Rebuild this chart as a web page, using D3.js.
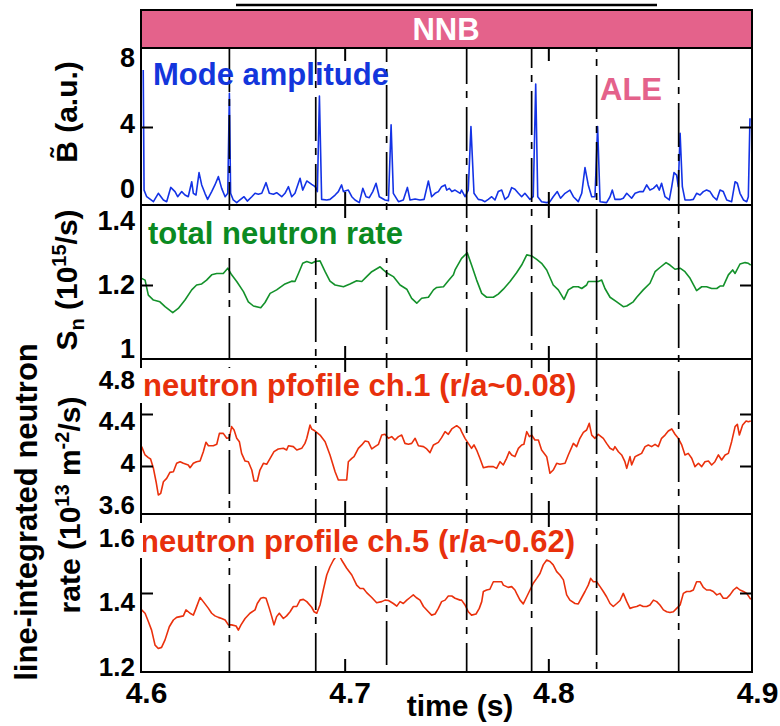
<!DOCTYPE html>
<html><head><meta charset="utf-8">
<script src="https://cdn.jsdelivr.net/npm/d3@7"></script>
<style>
body{margin:0;background:#fff}
svg{display:block}
text{font-family:"Liberation Sans",Arial,Helvetica,sans-serif;font-weight:bold}
</style>
</head><body>
<svg id="c" width="780" height="726"></svg>
<script>
// ---------------- DATA ----------------
const timeTicks = [4.6, 4.7, 4.8, 4.9];
const aleTimes = [4.6434, 4.6858, 4.7206, 4.7599, 4.7918, 4.8237, 4.8640];

const modeTicks = [0, 4, 8];
const rateTicks = [1, 1.2, 1.4];
const ch1Ticks = [3.6, 4, 4.4, 4.8];
const ch5Ticks = [1.2, 1.4, 1.6];

// Mode amplitude (a.u.)
const modeAmplitude = [
[4.6011,7.0],[4.6015,0.68],[4.6028,0.33],[4.6061,0.07],[4.6085,0.51],[4.6110,0.16],[4.6126,0.07],[4.6146,0.82],[4.6167,0.6],[4.6180,0.33],
[4.6200,0.6],[4.6216,0.42],[4.6232,0.33],[4.6249,1.12],[4.6257,0.51],[4.6270,0.42],[4.6285,1.6],[4.6298,0.95],[4.6314,0.51],[4.6327,0.19],
[4.6347,0.6],[4.6363,0.95],[4.6380,1.39],[4.6396,0.77],[4.6413,0.33],[4.6426,0.51],[4.6434,5.77],[4.6440,0.51],[4.6453,0.16],[4.6470,0.02],
[4.6486,0.16],[4.6506,0.33],[4.6522,0.1],[4.6544,0.33],[4.6560,0.51],[4.6576,0.46],[4.6593,0.51],[4.6614,1.07],[4.6630,0.51],[4.6650,0.46],
[4.6666,0.54],[4.6691,0.33],[4.6707,0.51],[4.6724,0.86],[4.6740,0.33],[4.6756,0.51],[4.6781,1.3],[4.6794,0.68],[4.6814,1.16],[4.6838,0.98],
[4.6855,0.86],[4.6866,0.6],[4.6876,5.63],[4.6887,0.19],[4.6912,0.16],[4.6928,0.19],[4.6953,0.42],[4.6969,0.6],[4.6985,0.95],[4.6994,0.6],
[4.7018,0.68],[4.7035,0.33],[4.7051,0.16],[4.7072,0.02],[4.7089,0.77],[4.7105,0.33],[4.7121,0.28],[4.7138,0.6],[4.7154,1.04],[4.7170,0.33],
[4.7198,0.16],[4.7215,0.12],[4.7228,4.11],[4.7239,0.51],[4.7264,0.07],[4.7288,0.16],[4.7308,0.82],[4.7321,0.16],[4.7346,0.21],[4.7370,0.16],
[4.7390,0.19],[4.7411,1.16],[4.7427,0.33],[4.7444,0.51],[4.7460,0.6],[4.7476,0.86],[4.7493,0.95],[4.7501,0.68],[4.7514,0.77],[4.7526,0.6],
[4.7542,0.68],[4.7567,0.51],[4.7574,0.68],[4.7591,0.33],[4.7607,0.68],[4.7620,4.02],[4.7635,0.51],[4.7656,0.19],[4.7673,0.16],[4.7689,0.07],
[4.7705,0.19],[4.7722,0.33],[4.7738,0.16],[4.7754,0.6],[4.7771,0.68],[4.7787,0.19],[4.7803,0.33],[4.7820,0.81],[4.7836,0.72],[4.7853,0.51],
[4.7869,0.33],[4.7885,0.51],[4.7910,0.19],[4.7926,0.33],[4.7938,6.26],[4.7948,0.33],[4.7967,0.07],[4.7992,0.02],[4.8008,0.07],[4.8024,0.33],
[4.8044,0.6],[4.8060,0.25],[4.8082,0.51],[4.8106,0.68],[4.8123,0.33],[4.8147,0.07],[4.8164,0.51],[4.8180,1.86],[4.8196,0.95],[4.8213,0.33],
[4.8229,0.33],[4.8242,4.02],[4.8254,0.07],[4.8286,0.02],[4.8303,0.33],[4.8314,0.68],[4.8327,0.19],[4.8352,0.19],[4.8368,0.25],[4.8385,0.51],
[4.8409,0.25],[4.8426,0.51],[4.8450,0.6],[4.8466,0.6],[4.8483,0.95],[4.8499,0.68],[4.8516,0.77],[4.8532,0.95],[4.8545,0.68],[4.8556,1.04],
[4.8573,0.33],[4.8594,0.16],[4.8606,0.86],[4.8617,1.6],[4.8630,1.47],[4.8638,0.86],[4.8647,3.67],[4.8658,0.86],[4.8671,0.16],[4.8696,0.16],
[4.8712,0.19],[4.8728,0.51],[4.8745,0.42],[4.8761,0.6],[4.8777,0.68],[4.8794,0.6],[4.8810,0.33],[4.8827,0.16],[4.8843,0.68],[4.8859,0.6],
[4.8876,0.16],[4.8900,0.07],[4.8917,1.12],[4.8928,1.04],[4.8941,0.51],[4.8958,0.16],[4.8974,0.07],[4.8982,0.33],[4.8990,4.46]
];

// Total neutron rate (10^15 /s)
const totalRate = [
[4.6003,1.219],[4.6020,1.214],[4.6036,1.171],[4.6061,1.157],[4.6093,1.152],[4.6118,1.138],[4.6156,1.121],[4.6183,1.133],[4.6216,1.157],[4.6249,1.186],
[4.6273,1.2],[4.6298,1.203],[4.6322,1.214],[4.6347,1.229],[4.6372,1.233],[4.6404,1.233],[4.6426,1.248],[4.6445,1.229],[4.6470,1.21],[4.6503,1.181],
[4.6527,1.152],[4.6552,1.14],[4.6588,1.135],[4.6609,1.15],[4.6634,1.176],[4.6666,1.186],[4.6707,1.203],[4.6740,1.211],[4.6756,1.21],[4.6773,1.233],
[4.6794,1.262],[4.6814,1.267],[4.6838,1.262],[4.6855,1.267],[4.6879,1.269],[4.6904,1.238],[4.6928,1.211],[4.6953,1.2],[4.6977,1.197],[4.6994,1.195],
[4.7026,1.203],[4.7059,1.212],[4.7084,1.21],[4.7108,1.224],[4.7133,1.238],[4.7174,1.252],[4.7190,1.243],[4.7206,1.235],[4.7239,1.224],[4.7272,1.2],
[4.7305,1.188],[4.7329,1.162],[4.7354,1.148],[4.7378,1.162],[4.7411,1.165],[4.7436,1.186],[4.7452,1.193],[4.7485,1.195],[4.7509,1.212],[4.7534,1.229],
[4.7542,1.243],[4.7574,1.276],[4.7602,1.292],[4.7623,1.257],[4.7648,1.214],[4.7673,1.176],[4.7697,1.165],[4.7730,1.165],[4.7754,1.174],[4.7779,1.188],
[4.7812,1.21],[4.7844,1.235],[4.7869,1.257],[4.7894,1.286],[4.7918,1.283],[4.7943,1.273],[4.7967,1.262],[4.7992,1.243],[4.8024,1.2],[4.8049,1.186],
[4.8077,1.159],[4.8098,1.186],[4.8123,1.195],[4.8147,1.195],[4.8164,1.19],[4.8188,1.2],[4.8196,1.21],[4.8221,1.21],[4.8245,1.21],[4.8262,1.214],
[4.8278,1.19],[4.8303,1.165],[4.8336,1.152],[4.8368,1.138],[4.8385,1.14],[4.8417,1.152],[4.8434,1.165],[4.8466,1.186],[4.8499,1.205],[4.8524,1.238],
[4.8548,1.25],[4.8578,1.264],[4.8597,1.257],[4.8622,1.245],[4.8647,1.248],[4.8671,1.238],[4.8696,1.219],[4.8728,1.184],[4.8753,1.195],[4.8777,1.195],
[4.8802,1.19],[4.8827,1.19],[4.8843,1.197],[4.8859,1.197],[4.8884,1.229],[4.8905,1.243],[4.8917,1.233],[4.8941,1.26],[4.8966,1.264],[4.8982,1.262],
[4.8994,1.257]
];

// Line-integrated neutron profile ch.1 (10^13 m^-2/s)
const profileCh1 = [
[4.6003,4.149],[4.6020,4.085],[4.6036,4.064],[4.6047,4.054],[4.6061,3.982],[4.6074,3.879],[4.6085,3.777],[4.6097,3.79],[4.6110,3.879],[4.6126,3.905],
[4.6142,3.951],[4.6159,3.956],[4.6175,4.021],[4.6192,4.033],[4.6208,4.021],[4.6232,4.008],[4.6241,3.987],[4.6257,4.021],[4.6273,4.033],[4.6290,4.038],
[4.6306,4.11],[4.6319,4.182],[4.6331,4.156],[4.6355,4.156],[4.6372,4.167],[4.6385,4.251],[4.6404,4.251],[4.6421,4.213],[4.6434,4.218],[4.6445,4.303],
[4.6457,4.277],[4.6470,4.213],[4.6483,4.187],[4.6494,4.097],[4.6511,4.038],[4.6527,4.033],[4.6544,3.969],[4.6555,3.885],[4.6571,3.885],[4.6584,3.969],
[4.6601,4.021],[4.6617,4.013],[4.6634,4.059],[4.6653,4.11],[4.6674,4.131],[4.6699,4.136],[4.6715,4.123],[4.6724,4.156],[4.6748,4.149],[4.6765,4.123],
[4.6789,4.136],[4.6805,4.174],[4.6814,4.213],[4.6830,4.315],[4.6838,4.285],[4.6855,4.269],[4.6879,4.238],[4.6904,4.187],[4.6928,4.085],[4.6953,3.956],
[4.6969,3.892],[4.7010,3.892],[4.7018,4.033],[4.7035,4.059],[4.7046,4.072],[4.7067,4.136],[4.7084,4.162],[4.7100,4.192],[4.7116,4.187],[4.7133,4.131],
[4.7149,4.149],[4.7166,4.167],[4.7182,4.238],[4.7198,4.244],[4.7215,4.213],[4.7231,4.226],[4.7247,4.2],[4.7264,4.226],[4.7280,4.238],[4.7296,4.174],
[4.7313,4.167],[4.7329,4.174],[4.7346,4.213],[4.7362,4.156],[4.7387,4.149],[4.7403,4.131],[4.7419,4.103],[4.7436,4.162],[4.7460,4.182],[4.7476,4.218],
[4.7493,4.264],[4.7509,4.244],[4.7526,4.285],[4.7550,4.31],[4.7567,4.29],[4.7574,4.264],[4.7591,4.213],[4.7607,4.174],[4.7623,4.136],[4.7635,4.162],
[4.7648,4.123],[4.7664,4.059],[4.7681,3.987],[4.7705,3.995],[4.7730,3.995],[4.7746,3.982],[4.7763,4.033],[4.7779,4.008],[4.7795,4.059],[4.7808,4.11],
[4.7820,4.085],[4.7836,4.072],[4.7853,4.136],[4.7869,4.162],[4.7880,4.167],[4.7894,4.264],[4.7907,4.226],[4.7918,4.238],[4.7934,4.2],[4.7951,4.2],
[4.7967,4.123],[4.7992,4.072],[4.8008,3.944],[4.8024,3.969],[4.8041,4.021],[4.8057,4.013],[4.8082,4.021],[4.8098,4.085],[4.8123,4.174],[4.8139,4.149],
[4.8155,4.213],[4.8172,4.259],[4.8188,4.277],[4.8201,4.328],[4.8213,4.238],[4.8229,4.213],[4.8245,4.244],[4.8270,4.213],[4.8286,4.174],[4.8303,4.136],
[4.8319,4.123],[4.8327,4.149],[4.8344,4.11],[4.8360,4.085],[4.8376,4.033],[4.8385,3.982],[4.8401,4.072],[4.8409,4.008],[4.8426,4.072],[4.8442,4.085],
[4.8458,4.097],[4.8475,4.149],[4.8491,4.162],[4.8507,4.149],[4.8524,4.167],[4.8540,4.149],[4.8556,4.213],[4.8573,4.238],[4.8589,4.269],[4.8606,4.285],
[4.8622,4.244],[4.8638,4.213],[4.8655,4.162],[4.8671,4.085],[4.8687,4.097],[4.8704,4.059],[4.8720,3.995],[4.8737,4.021],[4.8753,3.995],[4.8769,4.033],
[4.8786,4.038],[4.8802,4.008],[4.8818,4.033],[4.8835,4.085],[4.8851,4.046],[4.8868,4.085],[4.8884,4.097],[4.8900,4.187],[4.8917,4.303],[4.8928,4.321],
[4.8938,4.238],[4.8954,4.315],[4.8971,4.346],[4.8982,4.341],[4.8994,4.346]
];

// Line-integrated neutron profile ch.5 (10^13 m^-2/s)
const profileCh5 = [
[4.6003,1.355],[4.6020,1.346],[4.6036,1.324],[4.6052,1.301],[4.6069,1.261],[4.6085,1.252],[4.6101,1.255],[4.6118,1.275],[4.6139,1.31],[4.6159,1.328],
[4.6175,1.335],[4.6192,1.337],[4.6208,1.339],[4.6221,1.355],[4.6241,1.346],[4.6257,1.341],[4.6270,1.359],[4.6290,1.388],[4.6306,1.377],[4.6331,1.359],
[4.6347,1.346],[4.6363,1.339],[4.6380,1.335],[4.6396,1.332],[4.6413,1.328],[4.6429,1.315],[4.6445,1.315],[4.6467,1.312],[4.6478,1.301],[4.6491,1.315],
[4.6511,1.332],[4.6535,1.346],[4.6560,1.355],[4.6571,1.372],[4.6588,1.386],[4.6601,1.388],[4.6614,1.386],[4.6630,1.359],[4.6642,1.337],[4.6653,1.315],
[4.6666,1.337],[4.6679,1.346],[4.6699,1.332],[4.6715,1.339],[4.6732,1.35],[4.6748,1.364],[4.6765,1.364],[4.6781,1.381],[4.6797,1.383],[4.6814,1.377],
[4.6838,1.362],[4.6850,1.35],[4.6863,1.346],[4.6879,1.368],[4.6895,1.408],[4.6912,1.448],[4.6928,1.47],[4.6945,1.488],[4.6969,1.505],[4.6985,1.488],
[4.7010,1.466],[4.7035,1.448],[4.7059,1.421],[4.7076,1.412],[4.7092,1.412],[4.7108,1.401],[4.7133,1.388],[4.7157,1.374],[4.7182,1.377],[4.7198,1.381],
[4.7215,1.38],[4.7239,1.372],[4.7256,1.365],[4.7272,1.377],[4.7288,1.372],[4.7305,1.381],[4.7321,1.388],[4.7337,1.395],[4.7351,1.388],[4.7370,1.381],
[4.7387,1.364],[4.7411,1.35],[4.7427,1.341],[4.7444,1.344],[4.7460,1.359],[4.7476,1.377],[4.7493,1.381],[4.7509,1.392],[4.7526,1.392],[4.7542,1.386],
[4.7567,1.381],[4.7574,1.381],[4.7591,1.368],[4.7607,1.35],[4.7623,1.341],[4.7645,1.344],[4.7661,1.359],[4.7673,1.377],[4.7681,1.404],[4.7697,1.408],
[4.7713,1.41],[4.7730,1.43],[4.7754,1.43],[4.7771,1.43],[4.7779,1.421],[4.7803,1.415],[4.7820,1.417],[4.7836,1.408],[4.7844,1.399],[4.7861,1.381],
[4.7877,1.371],[4.7894,1.39],[4.7910,1.408],[4.7926,1.426],[4.7943,1.439],[4.7959,1.452],[4.7975,1.475],[4.7992,1.488],[4.8008,1.484],[4.8024,1.475],
[4.8041,1.457],[4.8057,1.448],[4.8074,1.435],[4.8090,1.395],[4.8106,1.381],[4.8131,1.372],[4.8147,1.371],[4.8164,1.388],[4.8180,1.404],[4.8196,1.421],
[4.8208,1.439],[4.8221,1.43],[4.8237,1.43],[4.8254,1.417],[4.8270,1.404],[4.8286,1.39],[4.8303,1.372],[4.8319,1.364],[4.8336,1.372],[4.8352,1.38],
[4.8368,1.399],[4.8385,1.377],[4.8401,1.359],[4.8417,1.362],[4.8434,1.364],[4.8450,1.368],[4.8466,1.364],[4.8483,1.364],[4.8499,1.368],[4.8516,1.381],
[4.8532,1.377],[4.8548,1.368],[4.8565,1.355],[4.8581,1.35],[4.8597,1.348],[4.8614,1.35],[4.8630,1.359],[4.8647,1.368],[4.8663,1.399],[4.8679,1.404],
[4.8696,1.404],[4.8712,1.408],[4.8728,1.43],[4.8745,1.43],[4.8761,1.415],[4.8777,1.408],[4.8794,1.408],[4.8810,1.404],[4.8827,1.395],[4.8843,1.399],
[4.8859,1.386],[4.8876,1.386],[4.8892,1.395],[4.8909,1.408],[4.8925,1.415],[4.8941,1.408],[4.8958,1.404],[4.8974,1.399],[4.8994,1.383]
];

// ---------------- CHART ----------------
const svg = d3.select("#c");
const FONT = '"Liberation Sans",Arial,Helvetica,sans-serif';
const X0 = 141, X1 = 752;
const x = d3.scaleLinear().domain([4.6, 4.9]).range([X0, X1]);

const panels = [
  {id:"p1", top:48, bottom:205, y:d3.scaleLinear().domain([0,8]).range([203,51]),
   yl:d3.scaleLinear().domain([0,8]).range([189,58]), ticks:[4], labels:modeTicks, lfs:27,
   data:modeAmplitude, color:"#1433e6",
   title:"Mode amplitude", tx:153, ty:85, tcolor:"#1336dc", box:null},
  {id:"p2", top:205, bottom:359, y:d3.scaleLinear().domain([1,1.4]).range([355,215]),
   yl:d3.scaleLinear().domain([1,1.4]).range([349,221]), ticks:[1.2], labels:rateTicks, lfs:27,
   data:totalRate, color:"#13912a",
   title:"total neutron rate", tx:148, ty:244, tcolor:"#0b8a22", box:{x0:143, y0:210, y1:258}},
  {id:"p3", top:359, bottom:514, y:d3.scaleLinear().domain([3.6,4.8]).range([518,362]),
   yl:d3.scaleLinear().domain([3.6,4.8]).range([505,380]), ticks:[4,4.4], labels:ch1Ticks, lfs:26,
   data:profileCh1, color:"#ea300c",
   title:"neutron pfofile ch.1 (r/a~0.08)", tx:143, ty:396, tcolor:"#e8300c", box:{x0:138, y0:368, y1:403}},
  {id:"p4", top:514, bottom:672, y:d3.scaleLinear().domain([1.2,1.6]).range([668,518]),
   yl:d3.scaleLinear().domain([1.2,1.6]).range([667,538]), ticks:[1.4], labels:ch5Ticks, lfs:26,
   data:profileCh5, color:"#ea300c",
   title:"neutron profile ch.5 (r/a~0.62)", tx:140, ty:552, tcolor:"#e8300c", box:{x0:138, y0:523, y1:558}}
];

// clip paths
const defs = svg.append("defs");
panels.forEach(p => {
  defs.append("clipPath").attr("id", "clip-" + p.id)
    .append("rect").attr("x", X0).attr("y", p.top).attr("width", X1 - X0).attr("height", p.bottom - p.top);
});

// NNB bar & top line
svg.append("line").attr("x1", 236).attr("x2", 657).attr("y1", 5).attr("y2", 5)
  .attr("stroke", "#000").attr("stroke-width", 2.5);
svg.append("rect").attr("x", X0).attr("y", 10).attr("width", X1 - X0).attr("height", 38)
  .attr("fill", "#e4628b").attr("stroke", "#000").attr("stroke-width", 2);
svg.append("text").attr("x", 446).attr("y", 40).attr("text-anchor", "middle")
  .attr("fill", "#fff").style("font-size", "31px").text("NNB");

// data lines
panels.forEach(p => {
  const line = d3.line().x(d => x(d[0])).y(d => p.y(d[1]));
  svg.append("path").datum(p.data)
    .attr("clip-path", "url(#clip-" + p.id + ")")
    .attr("fill", "none").attr("stroke", p.color).attr("stroke-width", 1.6)
    .attr("stroke-linejoin", "round").attr("d", line);
});

// ALE dash-dot lines
svg.append("g").selectAll("line").data(aleTimes).join("line")
  .attr("x1", d => x(d)).attr("x2", d => x(d))
  .attr("y1", 48).attr("y2", 672)
  .attr("stroke", "#000").attr("stroke-width", 1.7)
  .attr("stroke-dasharray", "44,7,7,9")
  .attr("stroke-dashoffset", (d, i) => [0, 18, 30, 8, 24, 40, 12][i]);

// panel titles with white boxes
panels.forEach(p => {
  const g = svg.append("g");
  const t = g.append("text").attr("x", p.tx).attr("y", p.ty)
    .attr("fill", p.tcolor).style("font-size", "31px").text(p.title);
  if (p.box) {
    const bb = t.node().getBBox();
    g.insert("rect", "text").attr("x", p.box.x0).attr("y", p.box.y0)
      .attr("width", bb.x + bb.width + 3 - p.box.x0).attr("height", p.box.y1 - p.box.y0)
      .attr("fill", "#fff");
  }
});

svg.append("text").attr("x", 600).attr("y", 100).attr("fill", "#e4628b")
  .style("font-size", "31px").text("ALE");

// frames, ticks, labels
panels.forEach(p => {
  svg.append("rect").attr("x", X0).attr("y", p.top).attr("width", X1 - X0).attr("height", p.bottom - p.top)
    .attr("fill", "none").attr("stroke", "#000").attr("stroke-width", 2);
  if (p.box && p.box.x0 < X0) {
    svg.append("rect").attr("x", p.box.x0).attr("y", p.box.y0).attr("width", X0 - p.box.x0 + 2)
      .attr("height", p.box.y1 - p.box.y0).attr("fill", "#fff");
  }
  const tickStyle = g => { g.select(".domain").remove(); g.selectAll("line").attr("stroke", "#000").attr("stroke-width", 2); };
  svg.append("g").attr("transform", `translate(${X0},0)`)
    .call(d3.axisLeft(p.y).tickValues(p.ticks).tickSize(-12).tickFormat("")).call(tickStyle);
  svg.append("g").attr("transform", `translate(${X1},0)`)
    .call(d3.axisRight(p.y).tickValues(p.ticks).tickSize(-12).tickFormat("")).call(tickStyle);
  svg.append("g").attr("transform", `translate(0,${p.top})`)
    .call(d3.axisBottom(x).tickValues([4.7, 4.8]).tickSize(13).tickFormat("")).call(tickStyle);
  svg.append("g").attr("transform", `translate(0,${p.bottom})`)
    .call(d3.axisTop(x).tickValues([4.7, 4.8]).tickSize(13).tickFormat("")).call(tickStyle);
  const la = svg.append("g").attr("transform", `translate(${X0},0)`)
    .call(d3.axisLeft(p.yl).tickValues(p.labels).tickSize(0).tickPadding(6).tickFormat(d3.format("~g")));
  la.select(".domain").remove();
  la.selectAll("text").attr("fill", "#000").style("font-size", p.lfs + "px")
    .style("font-family", FONT).style("font-weight", "bold");
});

// x axis labels
const xa = svg.append("g").attr("transform", "translate(0,672)")
  .call(d3.axisBottom(x).tickValues(timeTicks).tickSize(0).tickPadding(10).tickFormat(d3.format(".1f")));
xa.select(".domain").remove();
xa.selectAll("text").attr("dx", 5).attr("fill", "#000").style("font-size", "30px")
  .style("font-family", FONT).style("font-weight", "bold");

svg.append("text").attr("x", 460).attr("y", 716).attr("text-anchor", "middle")
  .style("font-size", "30px").text("time (s)");

// y-axis titles
const t1 = svg.append("text").attr("transform", "translate(77,112) rotate(-90)")
  .attr("text-anchor", "middle").style("font-size", "30px");
t1.append("tspan").text("B\u0303 (a.u.)");

const t2 = svg.append("text").attr("transform", "translate(77,280) rotate(-90)")
  .attr("text-anchor", "middle").style("font-size", "30px");
t2.append("tspan").text("S");
t2.append("tspan").attr("dy", 7).style("font-size", "20px").text("n");
t2.append("tspan").attr("dy", -7).text(" (10");
t2.append("tspan").attr("dy", -11).style("font-size", "20px").text("15");
t2.append("tspan").attr("dy", 11).text("/s)");

svg.append("text").attr("transform", "translate(37,512) rotate(-90)")
  .attr("text-anchor", "middle").style("font-size", "31px").text("line-integrated neutron");

const t4 = svg.append("text").attr("transform", "translate(80,505) rotate(-90)")
  .attr("text-anchor", "middle").style("font-size", "30px");
t4.append("tspan").text("rate (10");
t4.append("tspan").attr("dy", -11).style("font-size", "20px").text("13");
t4.append("tspan").attr("dy", 11).text(" m");
t4.append("tspan").attr("dy", -11).style("font-size", "20px").text("-2");
t4.append("tspan").attr("dy", 11).text("/s)");
</script>
</body></html>
